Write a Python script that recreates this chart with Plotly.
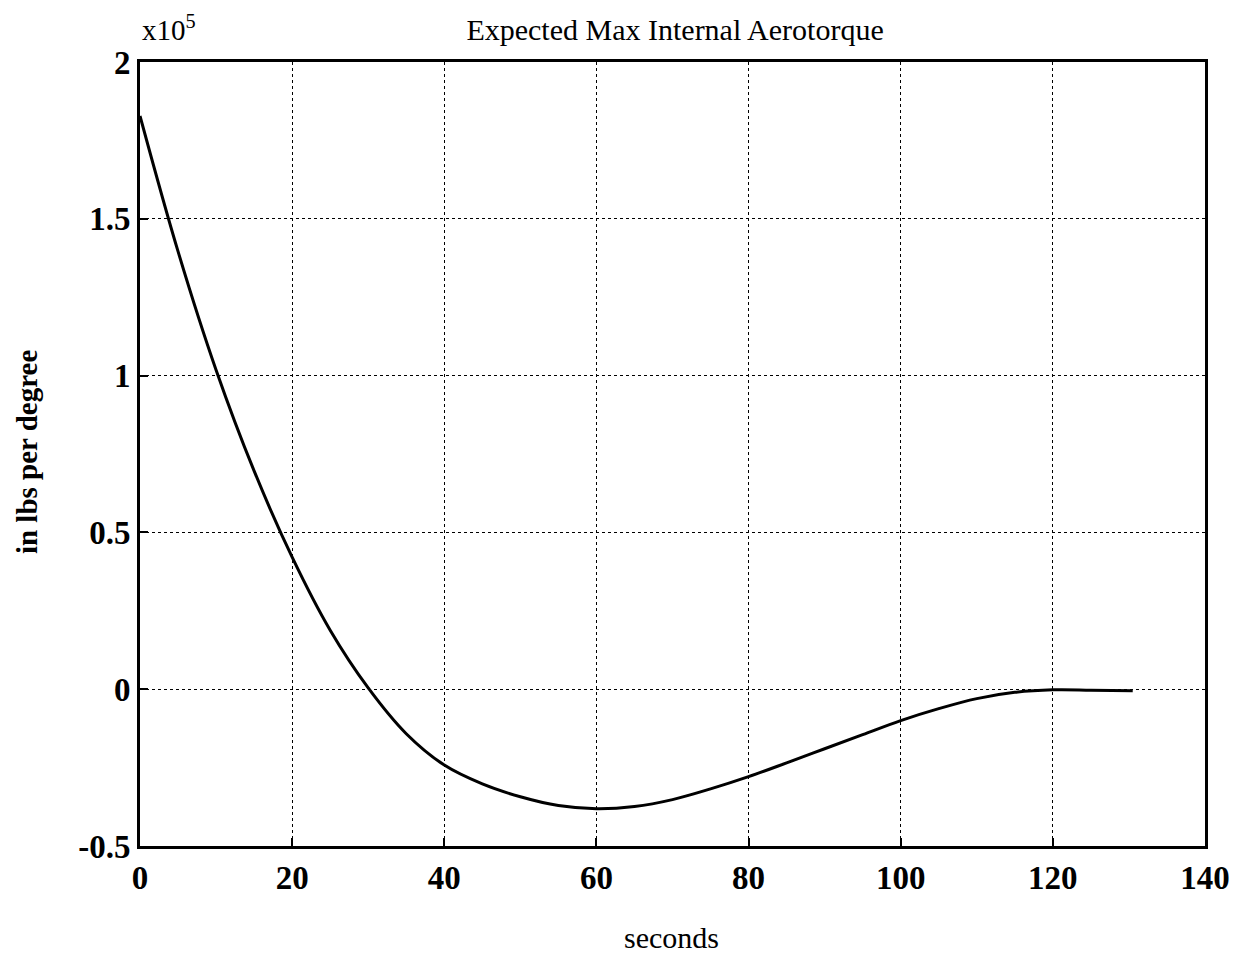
import plotly.graph_objects as go

# time (s) and torque (x1e5 in lbs per degree)
seconds = [0, 5, 10, 15, 20, 25, 30, 35, 40, 45, 50, 55, 60, 65, 70, 75, 80, 85, 90,
           95, 100, 105, 110, 115, 120, 125, 130.5]
torque = [1.828, 1.396, 1.018, 0.696, 0.421, 0.188, 0.004, -0.142, -0.242, -0.302, -0.343,
          -0.371, -0.381, -0.374, -0.352, -0.318, -0.279, -0.235, -0.190, -0.145, -0.100,
          -0.062, -0.030, -0.010, -0.002, -0.003, -0.005]

x_ticks = [0, 20, 40, 60, 80, 100, 120, 140]
y_ticks = [-0.5, 0, 0.5, 1, 1.5, 2]
y_labels = ["-0.5", "0", "0.5", "1", "1.5", "2"]

FONT = "Liberation Serif, Times New Roman, serif"

fig = go.Figure()
fig.add_trace(go.Scatter(x=seconds, y=torque, mode="lines", line=dict(color="black", width=3),
                         line_shape="spline", line_smoothing=1.0, showlegend=False))

axis_common = dict(showline=True, linecolor="black", linewidth=3, mirror=True,
                   showgrid=True, gridcolor="black", gridwidth=1.2, griddash="dot",
                   ticks="inside", ticklen=8, tickwidth=2, tickcolor="black",
                   zeroline=False, tickfont=dict(family=FONT, size=33, color="black", weight="bold"))

fig.update_xaxes(range=[0, 140], tickvals=x_ticks, **axis_common)
fig.update_yaxes(range=[-0.5, 2], tickvals=y_ticks, ticktext=y_labels, **axis_common)

fig.update_layout(
    width=1236, height=947,
    margin=dict(l=132, r=39, t=54, b=109),
    plot_bgcolor="white", paper_bgcolor="white",
    title=dict(text="Expected Max Internal Aerotorque", xref="container", x=0.5397, xanchor="center",
               yref="container", y=0.977, yanchor="middle",
               font=dict(family=FONT, size=30, color="black")),
)
fig.add_annotation(text="x10<sup>5</sup>", xref="paper", yref="paper", x=0.0, y=1.0, yshift=14,
                   xanchor="left", yanchor="bottom", showarrow=False,
                   font=dict(family=FONT, size=29, color="black"))
fig.add_annotation(text="in lbs per degree", xref="paper", yref="paper", x=-0.1055, y=0.502,
                   xanchor="center", yanchor="middle", textangle=-90, showarrow=False,
                   font=dict(family=FONT, size=29, color="black", weight="bold"))
fig.add_annotation(text="seconds", xref="paper", yref="paper", x=0.4995, y=-0.117,
                   xanchor="center", yanchor="middle", showarrow=False,
                   font=dict(family=FONT, size=30, color="black"))

fig.write_html("out.html")
